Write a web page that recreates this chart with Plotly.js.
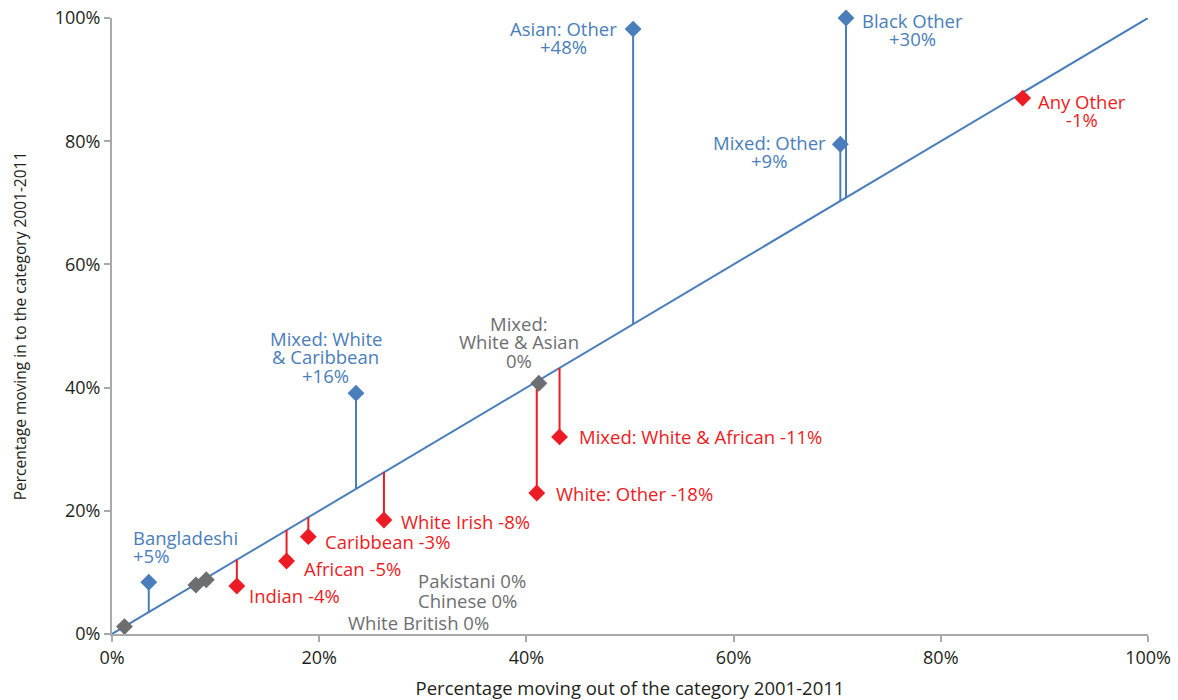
<!DOCTYPE html>
<html>
<head>
<meta charset="utf-8">
<script src="https://cdn.plot.ly/plotly-3.0.1.min.js"></script>
<style>html,body{margin:0;padding:0;background:#fff;}#chart{width:1178px;height:700px;}</style>
</head>
<body>
<div id="chart"></div>
<script>
// ---- data ----
const categories = ['Asian: Other','Black Other','Mixed: Other','Any Other','Mixed: White & Caribbean','Mixed: White & Asian','Mixed: White & African','White: Other','White Irish','Caribbean','African','Indian','Bangladeshi','Pakistani','Chinese','White British'];
const moveOut = [50.3, 70.85, 70.3, 87.9, 23.55, 41.2, 43.2, 41.0, 26.25, 18.95, 16.85, 12.05, 3.55, 8.1, 9.1, 1.2];
const moveIn  = [98.2, 100.0, 79.5, 87.0, 39.1, 40.7, 32.0, 22.9, 18.5, 15.8, 11.85, 7.8, 8.4, 7.95, 8.8, 1.2];
const changeText = ['+48%','+30%','+9%','-1%','+16%','0%','-11%','-18%','-8%','-3%','-5%','-4%','+5%','0%','0%','0%'];
const diagX = [0, 100];
const axisTicks = [0, 20, 40, 60, 80, 100];

// ---- styling / label layout ----
const COLORS = {up:'#4a7ebb', down:'#ed1c24', same:'#6d6e71'};
const dirOf = t => t.startsWith('+') ? 'up' : (t.startsWith('-') ? 'down' : 'same');
const FONT = 'Open Sans, Noto Sans, sans-serif';
const LABEL_SIZE = 18.5;
const LINE_GAP = 18.7;
// lines, anchor, dx, dy (px from marker to first line centre, dy positive = down)
const labelLayout = [
  {lines:['Asian: Other','+48%'], anchor:'center', dx:-70, dy:-1},
  {lines:['Black Other','+30%'], anchor:'center', dx:66, dy:2},
  {lines:['Mixed: Other','+9%'], anchor:'center', dx:-71, dy:-2},
  {lines:['Any Other','-1%'], anchor:'center', dx:59, dy:3},
  {lines:['Mixed: White','& Caribbean','+16%'], anchor:'center', dx:-30, dy:-55},
  {lines:['Mixed:','White & Asian','0%'], anchor:'center', dx:-20, dy:-60},
  {lines:['Mixed: White & African -11%'], anchor:'left', dx:18, dy:0},
  {lines:['White: Other -18%'], anchor:'left', dx:18, dy:1},
  {lines:['White Irish -8%'], anchor:'left', dx:16, dy:1},
  {lines:['Caribbean -3%'], anchor:'left', dx:16, dy:5},
  {lines:['African -5%'], anchor:'left', dx:16, dy:7},
  {lines:['Indian -4%'], anchor:'left', dx:11, dy:10},
  {lines:['Bangladeshi','+5%'], anchor:'left', dx:-17, dy:-45},
  {lines:['Pakistani 0%'], anchor:'left', dx:221, dy:-5},
  {lines:['Chinese 0%'], anchor:'left', dx:211, dy:21},
  {lines:['White British 0%'], anchor:'left', dx:223, dy:-4}
];

const traces = [];
// diagonal
traces.push({x: diagX, y: diagX, mode:'lines', line:{color:COLORS.up, width:2}, hoverinfo:'skip', showlegend:false});
// stems
['up','down'].forEach(d => {
  const sx = [], sy = [];
  categories.forEach((c,i) => {
    if (dirOf(changeText[i]) === d) { sx.push(moveOut[i], moveOut[i], null); sy.push(moveIn[i], moveOut[i], null); }
  });
  traces.push({x:sx, y:sy, mode:'lines', line:{color:COLORS[d], width:2}, hoverinfo:'skip', showlegend:false, cliponaxis:false});
});
// markers
['same','up','down'].forEach(d => {
  const mx = [], my = [], mt = [];
  categories.forEach((c,i) => {
    if (dirOf(changeText[i]) === d) { mx.push(moveOut[i]); my.push(moveIn[i]); mt.push(c); }
  });
  traces.push({x:mx, y:my, text:mt, mode:'markers', marker:{symbol:'diamond', size:13, color:COLORS[d]}, showlegend:false, cliponaxis:false, hoverinfo:'text'});
});

const annotations = [];
labelLayout.forEach((L, i) => {
  const col = COLORS[dirOf(changeText[i])];
  L.lines.forEach((ln, k) => {
    annotations.push({x: moveOut[i], y: moveIn[i], xref:'x', yref:'y', text: ln, showarrow:false,
      xanchor: L.anchor, yanchor:'middle', xshift: L.dx, yshift: -(L.dy + k*LINE_GAP),
      font:{family:FONT, size:LABEL_SIZE, color: col}, borderpad:0});
  });
});

const axisCommon = {
  range:[0,100], tickvals: axisTicks, ticktext: axisTicks.map(v => v + '%'),
  showgrid:false, zeroline:false, showline:true, linecolor:'#a7a9ac', linewidth:2,
  ticks:'outside', ticklen:6, tickwidth:2, tickcolor:'#a7a9ac',
  tickfont:{family:FONT, size:18, color:'#231f20'}, fixedrange:true
};

const layout = {
  width:1178, height:700,
  margin:{l:112, r:30, t:18, b:66},
  paper_bgcolor:'#fff', plot_bgcolor:'#fff',
  xaxis: Object.assign({}, axisCommon, {title:{text:'Percentage moving out of the category 2001-2011', font:{family:FONT, size:18.5, color:'#231f20'}, standoff:14}}),
  yaxis: Object.assign({}, axisCommon, {title:{text:'Percentage moving in to the category 2001-2011', font:{family:FONT, size:15.5, color:'#231f20'}, standoff:24}}),
  annotations: annotations,
  showlegend:false
};

Plotly.newPlot('chart', traces, layout, {displayModeBar:false, staticPlot:true});
</script>
</body>
</html>
